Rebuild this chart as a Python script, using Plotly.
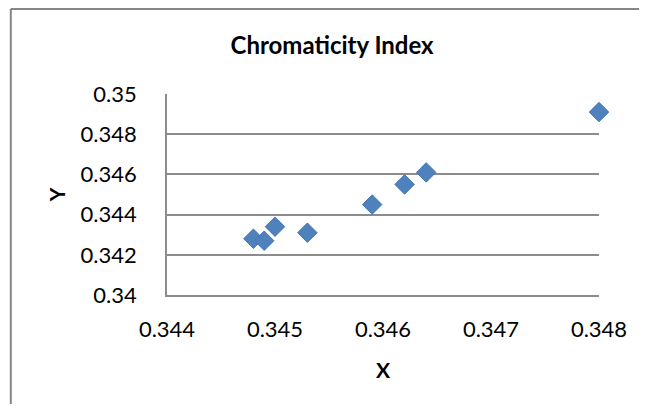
import plotly.graph_objects as go

x_vals = [0.3448, 0.3449, 0.3450, 0.3453, 0.3459, 0.3462, 0.3464, 0.3480]
y_vals = [0.3428, 0.3427, 0.3434, 0.3431, 0.3445, 0.3455, 0.3461, 0.3491]
x_ticks = [0.344, 0.345, 0.346, 0.347, 0.348]
x_tick_labels = ["0.344", "0.345", "0.346", "0.347", "0.348"]
y_ticks = [0.340, 0.342, 0.344, 0.346, 0.348, 0.350]
y_tick_labels = ["0.34", "0.342", "0.344", "0.346", "0.348", "0.35"]

OFF = 8  # page body margin
W, H = 647 - 2 * OFF, 412 - 2 * OFF
# plot area in page pixels
PL, PR, PT, PB = 167, 604, 94, 295
L, R, T, B = PL - OFF, W - (PR - OFF), PT - OFF, H - (PB - OFF)
pw, ph = W - L - R, H - T - B

def px_to_paper_x(p):
    return (p - OFF - L) / pw

def px_to_paper_y(p):
    return (H - B - (p - OFF)) / ph

fig = go.Figure()
fig.add_trace(go.Scatter(
    x=x_vals, y=y_vals, mode="markers",
    marker=dict(symbol="diamond", size=15, color="#4F81BD",
                line=dict(color="#4677B3", width=1)),
    cliponaxis=False, showlegend=False,
))

font = "Lato, Calibri, 'Open Sans', sans-serif"
grid = "#8C8C8C"

fig.update_layout(
    width=W, height=H,
    margin=dict(l=L, r=R, t=T, b=B),
    paper_bgcolor="white", plot_bgcolor="white",
    font=dict(family=font, color="black"),
    title=dict(text="<b>Chromaticity Index</b>", x=px_to_paper_x(334), xref="paper",
               y=1 - (46 - OFF) / H, yref="container", xanchor="center", yanchor="middle",
               font=dict(size=24, family=font)),
    xaxis=dict(range=[0.344, 0.348], tickvals=x_ticks, ticktext=x_tick_labels,
               showgrid=False, zeroline=False, showline=True, linecolor=grid, linewidth=1.5,
               ticks="", ticklabelstandoff=14, tickfont=dict(size=22),
               title=dict(text="<b>X</b>", font=dict(size=21), standoff=22)),
    yaxis=dict(range=[0.340, 0.350], tickvals=y_ticks, ticktext=y_tick_labels,
               showgrid=True, gridcolor=grid, gridwidth=1.5, zeroline=False,
               showline=True, linecolor=grid, linewidth=1.5,
               ticks="", ticklabelstandoff=24, tickfont=dict(size=22),
               title=dict(text="<b>Y</b>", font=dict(size=21), standoff=9)),
)

# outer chart border (only left and top edges are visible in the crop)
border = dict(color="#868686", width=2)
fig.add_shape(type="line", xref="paper", yref="paper",
              x0=px_to_paper_x(9), x1=px_to_paper_x(660),
              y0=px_to_paper_y(9), y1=px_to_paper_y(9), line=border, layer="below")
fig.add_shape(type="line", xref="paper", yref="paper",
              x0=px_to_paper_x(9), x1=px_to_paper_x(9),
              y0=px_to_paper_y(9), y1=px_to_paper_y(430), line=border, layer="below")

fig.write_html("out.html")
